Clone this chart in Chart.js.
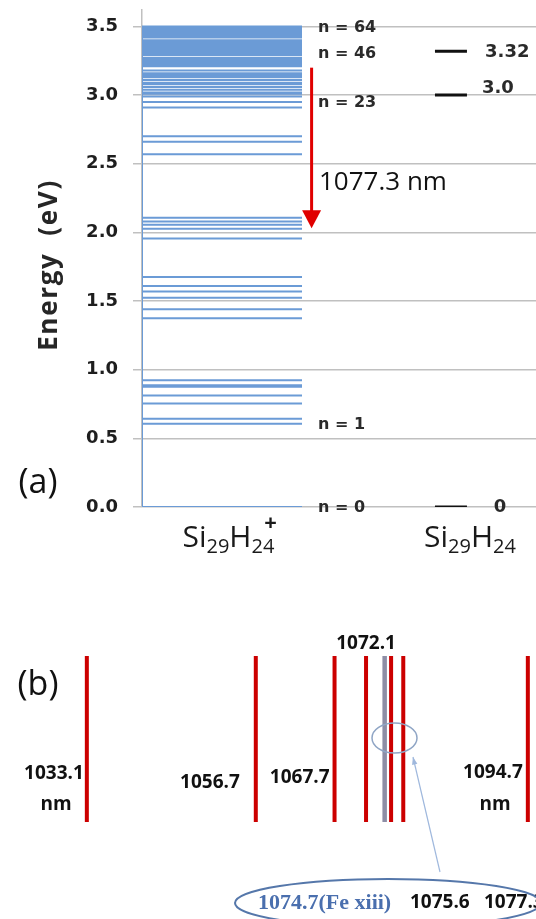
<!DOCTYPE html>
<html>
<head>
<meta charset="utf-8">
<script src="https://cdn.jsdelivr.net/npm/chart.js@4.4.0/dist/chart.umd.min.js"></script>
<style>
  html, body { margin: 0; padding: 0; background: #fff; }
  #wrap { position: relative; width: 536px; height: 919px; overflow: hidden; }
  .box { position: absolute; left: 0; width: 536px; }
</style>
</head>
<body>
<div id="wrap">
  <div class="box" style="top:0;height:580px"><canvas id="levels"></canvas></div>
  <div class="box" style="top:580px;height:339px"><canvas id="lines"></canvas></div>
</div>
<script>
// (a) energy levels of Si29H24+ (eV), n = 0 .. 64
const cationLevels = [
  0,
  0.606, 0.642, 0.754, 0.812, 0.875, 0.887, 0.924,
  1.375, 1.44, 1.525, 1.57, 1.61, 1.675,
  1.956, 2.027, 2.056, 2.08, 2.107,
  2.57, 2.66, 2.70, 2.91, 2.95,
  2.99, 3.01, 3.02, 3.04, 3.06, 3.08, 3.09, 3.11,
  3.13, 3.14, 3.15, 3.16, 3.18,
  3.21, 3.22, 3.23, 3.24, 3.25, 3.26, 3.27,
  3.29, 3.30, 3.31, 3.32, 3.33, 3.34, 3.35, 3.36, 3.37, 3.38, 3.39, 3.40,
  3.42, 3.43, 3.44, 3.45, 3.46, 3.47, 3.48, 3.49, 3.50
];
const taggedN = [64, 46, 23, 1, 0];

// neutral Si29H24 levels (eV)
const neutralLevels = [0, 3.0, 3.32];
const neutralLabels = ['0', '3.0', '3.32'];

// transition arrow: from / to (eV)
const arrowEnergies = [3.2, 2.03];
const arrowLabel = '1077.3 nm';

const energyMax = 3.62;
const energyStep = 0.5;

// (b) emission lines (nm)
const wavelengths = [1033.1, 1056.7, 1067.7, 1072.1, 1075.6, 1077.3, 1094.7];
const feLine = [1074.7];

const levelBlue = '#6b9bd6';

// layout of the top panel (x units: a level runs 0..1)
const levelEnd = 1;
const neutralFrom = 1.831, neutralTo = 2.031;

function segments(values, x0, x1) {
  return values.flatMap(v => [{ x: x0, y: v }, { x: x1, y: v }, { x: x1, y: null }]);
}

function drawFormula(ctx, parts, cx, base) {
  const big = '30px "Open Sans"', small = '20px "Open Sans"';
  let w = 0;
  parts.forEach(([t, k]) => {
    ctx.font = k === 'n' ? big : small;
    if (k !== 'sup') w += ctx.measureText(t).width;
  });
  let xx = cx - w / 2;
  ctx.textBaseline = 'alphabetic';
  ctx.textAlign = 'left';
  parts.forEach(([t, k]) => {
    ctx.font = k === 'n' ? big : (k === 'sup' ? 'bold 22px "Open Sans"' : small);
    const tw = ctx.measureText(t).width;
    if (k === 'sup') { ctx.fillText(t, xx - 10, base - 17); return; }
    ctx.fillText(t, xx, k === 'sub' ? base + 6 : base);
    xx += tw;
  });
}

const levelNotes = {
  id: 'levelNotes',
  afterDatasetsDraw(chart) {
    const { ctx, scales: { x, y } } = chart;
    ctx.save();

    // n labels
    ctx.fillStyle = '#2a2a2a';
    ctx.font = 'bold 16px "DejaVu Sans"';
    ctx.textBaseline = 'middle';
    taggedN.forEach(n => {
      ctx.fillText('n = ' + n, x.getPixelForValue(1.1), y.getPixelForValue(cationLevels[n]) + 1);
    });

    // neutral level labels
    ctx.font = 'bold 18px "DejaVu Sans"';
    const dy = [0, -7, 1];
    neutralLevels.forEach((e, i) => {
      ctx.textAlign = i === 0 ? 'center' : 'left';
      const px = i === 0 ? x.getPixelForValue(2.2375) : x.getPixelForValue(i === 1 ? 2.125 : 2.144);
      ctx.fillText(neutralLabels[i], px, y.getPixelForValue(e) + dy[i]);
    });

    // red transition arrow
    const ax = x.getPixelForValue(1.06);
    const y0 = y.getPixelForValue(arrowEnergies[0]);
    const y1 = y.getPixelForValue(arrowEnergies[1]);
    ctx.strokeStyle = ctx.fillStyle = '#e00000';
    ctx.lineWidth = 3;
    ctx.beginPath(); ctx.moveTo(ax, y0); ctx.lineTo(ax, y1 - 15); ctx.stroke();
    ctx.beginPath();
    ctx.moveTo(ax - 9.5, y1 - 18); ctx.lineTo(ax + 9.5, y1 - 18); ctx.lineTo(ax, y1);
    ctx.closePath(); ctx.fill();

    ctx.fillStyle = '#111';
    ctx.textAlign = 'left';
    ctx.font = '26px "Open Sans"';
    ctx.fillText(arrowLabel, x.getPixelForValue(1.106), y.getPixelForValue(2.365));

    // category labels under the diagram
    ctx.fillStyle = '#1a1a1a';
    drawFormula(ctx, [['Si', 'n'], ['29', 'sub'], ['H', 'n'], ['24', 'sub'], ['+', 'sup']], x.getPixelForValue(0.54), 547);
    drawFormula(ctx, [['Si', 'n'], ['29', 'sub'], ['H', 'n'], ['24', 'sub']], x.getPixelForValue(2.05), 547);

    // panel tag
    ctx.fillStyle = '#111';
    ctx.font = '34px "Open Sans"';
    ctx.textAlign = 'center';
    ctx.textBaseline = 'middle';
    ctx.fillText('(a)', 38, 483);

    // y title
    ctx.save();
    ctx.translate(50, 265);
    ctx.rotate(-Math.PI / 2);
    ctx.font = 'bold 26px "Open Sans"';
    const title = 'Energy  (eV)';
    const tw = ctx.measureText(title).width;
    if ('letterSpacing' in ctx && tw < 170) ctx.letterSpacing = ((170 - tw) / (title.length - 1)).toFixed(2) + 'px';
    ctx.fillStyle = '#262626';
    ctx.textAlign = 'center';
    ctx.fillText(title, 0, 0);
    ctx.restore();

    ctx.restore();
  }
};

new Chart(document.getElementById('levels'), {
  type: 'scatter',
  data: {
    datasets: [
      { data: segments(cationLevels, 0, levelEnd), showLine: true, spanGaps: false,
        borderColor: levelBlue, borderWidth: 2, pointRadius: 0 },
      { data: [{ x: 0, y: cationLevels[0] }, { x: 0, y: cationLevels[cationLevels.length - 1] }],
        showLine: true, borderColor: levelBlue, borderWidth: 2, pointRadius: 0 },
      { data: segments(neutralLevels, neutralFrom, neutralTo), showLine: true, spanGaps: false,
        borderColor: '#111', borderWidth: 3, pointRadius: 0 }
    ]
  },
  options: {
    responsive: true,
    maintainAspectRatio: false,
    animation: false,
    layout: { padding: { top: 10, right: 0, bottom: 73, left: 0 } },
    plugins: { legend: { display: false }, tooltip: { enabled: false } },
    scales: {
      x: { type: 'linear', display: false, min: 0, max: 2.4625 },
      y: {
        type: 'linear', min: 0, max: energyMax,
        afterFit(s) { s.width = 142; s.paddingTop = 0; s.paddingBottom = 0; },
        border: { color: '#c0c0c0', width: 1.5 },
        grid: { color: '#c0c0c0', lineWidth: 1.5, tickLength: 9 },
        ticks: {
          stepSize: energyStep, includeBounds: false, padding: 15, color: '#1e1e1e',
          font: { family: 'DejaVu Sans', weight: 'bold', size: 18 },
          callback: v => v.toFixed(1)
        }
      }
    }
  },
  plugins: [levelNotes]
});

// (b) panel
const lineNotes = {
  id: 'lineNotes',
  afterDatasetsDraw(chart) {
    const { ctx, scales: { x } } = chart;
    ctx.save();
    ctx.fillStyle = '#111';
    ctx.font = 'bold 19px "Open Sans"';
    ctx.textBaseline = 'middle';

    // label placement per line: [dx from line, y, align, with unit]
    const place = {
      '1033.1': [-3, 194, 'right', true],
      '1056.7': [-16, 203, 'right', false],
      '1067.7': [-5, 198, 'right', false],
      '1072.1': [0, 64, 'center', false],
      '1094.7': [-5, 193, 'right', true]
    };
    wavelengths.forEach(w => {
      const t = w.toFixed(1);
      const p = place[t];
      if (!p) return;
      const px = x.getPixelForValue(w) + p[0];
      ctx.textAlign = p[2];
      ctx.fillText(t, px, p[1]);
      if (p[3]) {
        const tw = ctx.measureText(t).width;
        ctx.textAlign = 'center';
        ctx.fillText('nm', px - tw / 2 + 2, 225);
      }
    });

    // bottom row
    ctx.textAlign = 'left';
    ctx.fillText(wavelengths[4].toFixed(1), 410, 323);
    ctx.fillText(wavelengths[5].toFixed(1), 484, 323);
    ctx.fillStyle = '#4a6fae';
    ctx.font = 'bold 22px "Liberation Serif"';
    ctx.fillText(feLine[0].toFixed(1) + '(Fe xiii)', 258, 323);

    // ellipses and pointer
    ctx.strokeStyle = '#5577aa';
    ctx.lineWidth = 2;
    ctx.beginPath(); ctx.ellipse(388, 323, 153, 24, 0, 0, Math.PI * 2); ctx.stroke();
    ctx.strokeStyle = '#8fa5c5';
    ctx.lineWidth = 1.5;
    ctx.beginPath(); ctx.ellipse(394.5, 158, 22.5, 15, 0, 0, Math.PI * 2); ctx.stroke();

    ctx.strokeStyle = ctx.fillStyle = '#9fb8dd';
    ctx.lineWidth = 1.2;
    const ax0 = 440, ay0 = 292, ax1 = 413, ay1 = 177;
    const ang = Math.atan2(ay1 - ay0, ax1 - ax0);
    ctx.beginPath(); ctx.moveTo(ax0, ay0); ctx.lineTo(ax1, ay1); ctx.stroke();
    ctx.beginPath();
    ctx.moveTo(ax1, ay1);
    ctx.lineTo(ax1 - 8 * Math.cos(ang - 0.35), ay1 - 8 * Math.sin(ang - 0.35));
    ctx.lineTo(ax1 - 8 * Math.cos(ang + 0.35), ay1 - 8 * Math.sin(ang + 0.35));
    ctx.closePath(); ctx.fill();

    ctx.fillStyle = '#111';
    ctx.font = '34px "Open Sans"';
    ctx.textAlign = 'center';
    ctx.fillText('(b)', 38, 105);
    ctx.restore();
  }
};

function sticks(ws) {
  return ws.flatMap(w => [{ x: w, y: 0 }, { x: w, y: 1 }, { x: w, y: null }]);
}

new Chart(document.getElementById('lines'), {
  type: 'scatter',
  data: {
    datasets: [
      { data: sticks(wavelengths), showLine: true, spanGaps: false,
        borderColor: '#cc0000', borderWidth: 4, pointRadius: 0, borderCapStyle: 'butt' },
      { data: sticks(feLine), showLine: true, spanGaps: false,
        borderColor: '#8e8ea6', borderWidth: 4.5, pointRadius: 0 },
      { data: sticks(feLine), showLine: true, spanGaps: false,
        borderColor: '#f3f3f8', borderWidth: 2.5, pointRadius: 0 }
    ]
  },
  options: {
    responsive: true,
    maintainAspectRatio: false,
    animation: false,
    layout: { padding: { top: 76, right: 0, bottom: 97, left: 0 } },
    plugins: { legend: { display: false }, tooltip: { enabled: false } },
    scales: {
      x: { type: 'linear', display: false, min: 1020.97, max: 1095.84 },
      y: { type: 'linear', display: false, min: 0, max: 1 }
    }
  },
  plugins: [lineNotes]
});
</script>
</body>
</html>
